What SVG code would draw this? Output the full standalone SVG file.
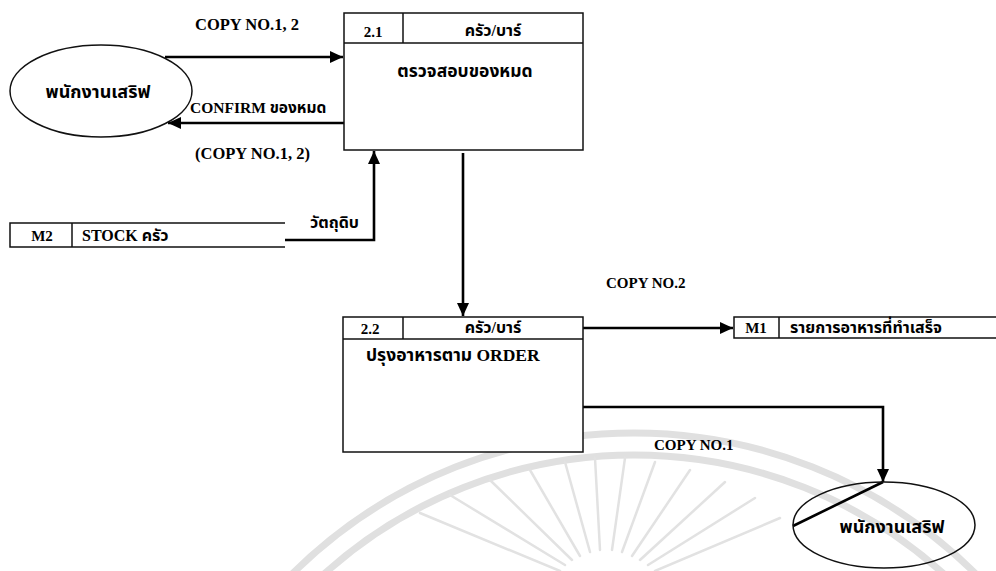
<svg xmlns="http://www.w3.org/2000/svg" width="996" height="571" viewBox="0 0 996 571">
<defs>
<marker id="ah" markerUnits="userSpaceOnUse" markerWidth="14" markerHeight="12" refX="13" refY="6" orient="auto">
<path d="M0,0 L13,6 L0,12 z" fill="#000"/>
</marker>
<style>
.box{fill:#fff;stroke:#111;stroke-width:1.5}
.ln{fill:none;stroke:#111;stroke-width:1.5}
.fl{fill:none;stroke:#000;stroke-width:2.6}
.t{font-family:"Liberation Serif","Noto Serif Thai","Noto Sans Thai",serif;font-weight:bold;font-size:15px;fill:#000}
.th{font-family:"Liberation Serif","Noto Sans Thai","Noto Serif Thai",sans-serif;font-weight:bold;font-size:16px;fill:#000}
.wm{fill:none;stroke:#e0e0e0;stroke-width:7}
.wr{fill:none;stroke:#e2e2e2;stroke-width:2.5;stroke-linecap:round}
</style>
</defs>
<rect width="996" height="571" fill="#fff"/>
<g id="watermark">
<circle class="wm" cx="634" cy="918" r="485"/>
<circle class="wm" cx="634" cy="918" r="463"/>
<g class="wr">
<line x1="560" y1="571" x2="420" y2="513"/>
<line x1="565" y1="565" x2="450" y2="495"/>
<line x1="572" y1="560" x2="490" y2="480"/>
<line x1="580" y1="556" x2="530" y2="470"/>
<line x1="590" y1="552" x2="565" y2="462"/>
<line x1="600" y1="550" x2="595" y2="458"/>
<line x1="612" y1="550" x2="625" y2="458"/>
<line x1="622" y1="552" x2="655" y2="462"/>
<line x1="632" y1="556" x2="690" y2="470"/>
<line x1="640" y1="560" x2="725" y2="482"/>
<line x1="648" y1="565" x2="755" y2="498"/>
<line x1="655" y1="571" x2="780" y2="518"/>
</g>
</g>
<g id="connectors">
<path class="fl" d="M165,57 H343" marker-end="url(#ah)"/>
<path class="fl" d="M344,123 H168" marker-end="url(#ah)"/>
<path class="fl" d="M285,240 H374 V151" marker-end="url(#ah)"/>
<path class="fl" d="M463,153 V316" marker-end="url(#ah)"/>
<path class="fl" d="M583,328 H733" marker-end="url(#ah)"/>
<path class="fl" d="M583,407 H883 V482" marker-end="url(#ah)"/>
<path class="fl" d="M793,526 L883,482"/>
<text class="t" x="195" y="30" style="font-size:16.5px">COPY NO.1, 2</text>
<text class="th" x="190" y="113" style="font-size:15.5px">CONFIRM ของหมด</text>
<text class="t" x="195" y="159" style="font-size:16.5px">(COPY NO.1, 2)</text>
<text class="th" x="310" y="228">วัตถุดิบ</text>
<text class="t" x="606" y="288">COPY NO.2</text>
<text class="t" x="654" y="450">COPY NO.1</text>
</g>
<g id="ext-waiter-1">
<ellipse class="box" cx="101" cy="91" rx="91" ry="46"/>
<text class="th" x="98" y="98" text-anchor="middle" style="font-size:18px">พนักงานเสริฟ</text>
</g>
<g id="proc-2-1">
<rect class="box" x="344" y="13" width="239" height="137"/>
<line class="ln" x1="344" y1="43" x2="583" y2="43"/>
<line class="ln" x1="403" y1="13" x2="403" y2="43"/>
<text class="t" x="373" y="37" text-anchor="middle">2.1</text>
<text class="th" x="493" y="36" text-anchor="middle">ครัว/บาร์</text>
<text class="th" x="465" y="77" text-anchor="middle" style="font-size:17.5px">ตรวจสอบของหมด</text>
</g>
<g id="store-m2">
<path class="ln" d="M285,223 H10 V247 H285"/>
<line class="ln" x1="72" y1="223" x2="72" y2="247"/>
<text class="t" x="42" y="241" text-anchor="middle">M2</text>
<text class="th" x="82" y="241">STOCK  ครัว</text>
</g>
<g id="proc-2-2">
<rect class="box" x="343" y="317" width="240" height="135"/>
<line class="ln" x1="343" y1="339" x2="583" y2="339"/>
<line class="ln" x1="403" y1="317" x2="403" y2="339"/>
<text class="t" x="370" y="334" text-anchor="middle">2.2</text>
<text class="th" x="493" y="333" text-anchor="middle">ครัว/บาร์</text>
<text class="th" x="366" y="361" style="font-size:17.5px">ปรุงอาหารตาม ORDER</text>
</g>
<g id="store-m1">
<path class="ln" d="M996,317 H734 V338 H996"/>
<line class="ln" x1="779" y1="317" x2="779" y2="338"/>
<text class="t" x="756" y="333" text-anchor="middle">M1</text>
<text class="th" x="790" y="333">รายการอาหารที่ทำเสร็จ</text>
</g>
<g id="ext-waiter-2">
<ellipse cx="884" cy="525" rx="91" ry="43" style="fill:none;stroke:#111;stroke-width:1.5"/>
<text class="th" x="892" y="533" text-anchor="middle" style="font-size:18px">พนักงานเสริฟ</text>
</g>
</svg>
